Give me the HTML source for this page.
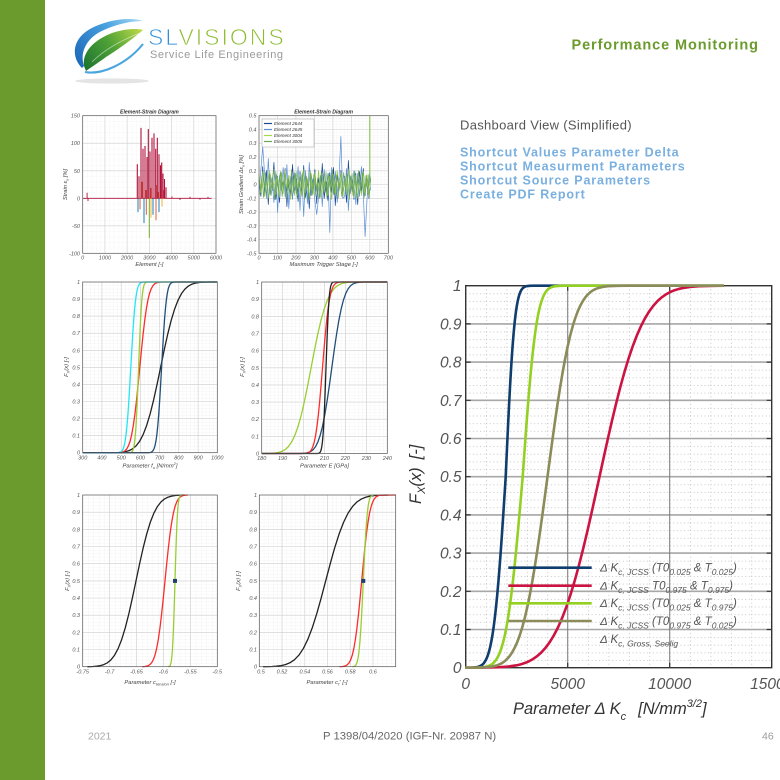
<!DOCTYPE html>
<html><head><meta charset="utf-8">
<style>
html,body{margin:0;padding:0;background:#fff;}
body{width:780px;height:780px;overflow:hidden;}
svg{display:block;font-family:"Liberation Sans",Arial,sans-serif;}
.t{font-size:5.5px;font-style:italic;fill:#555;}
.ax{font-size:5.8px;font-style:italic;fill:#444;}
.ttl{font-size:5.2px;font-style:italic;font-weight:bold;fill:#333;}
.bt{font-size:15.5px;font-style:italic;fill:#555;}
.lg{font-size:11.5px;font-style:italic;fill:#555;}
.c{fill:none;stroke-width:1.3;vector-effect:non-scaling-stroke;stroke-linejoin:round;}
.b{fill:none;stroke-width:2.6;vector-effect:non-scaling-stroke;stroke-linejoin:round;stroke-linecap:round;}
.mg{fill:none;stroke:#cfcfcf;stroke-width:0.6;}
.bd{fill:none;stroke:#555;stroke-width:0.7;}
</style></head><body>
<svg width="780" height="780" viewBox="0 0 780 780" xmlns="http://www.w3.org/2000/svg">
<defs>
<linearGradient id="gb" x1="75" y1="65" x2="143" y2="20" gradientUnits="userSpaceOnUse"><stop offset="0" stop-color="#1c66b8"/><stop offset="0.6" stop-color="#4aa3e0"/><stop offset="1" stop-color="#a9dcf3"/></linearGradient>
<linearGradient id="gg" x1="86" y1="70" x2="143" y2="28" gradientUnits="userSpaceOnUse"><stop offset="0" stop-color="#1d7530"/><stop offset="0.5" stop-color="#4fa236"/><stop offset="1" stop-color="#c3dc4a"/></linearGradient>
<pattern id="pA" x="82.7" y="115.7" width="4.444" height="5.504" patternUnits="userSpaceOnUse"><path d="M0,0.2H4.444M0.2,0V5.504" stroke="#e2e2e2" stroke-width="0.4" stroke-dasharray="0.6 0.8"/></pattern>
<pattern id="pB" x="259" y="115.7" width="3.694" height="2.752" patternUnits="userSpaceOnUse"><path d="M0,0.2H3.694M0.2,0V2.752" stroke="#e2e2e2" stroke-width="0.4" stroke-dasharray="0.6 0.8"/></pattern>
<pattern id="pC" x="82.7" y="282" width="3.846" height="3.414" patternUnits="userSpaceOnUse"><path d="M0,0.2H3.846M0.2,0V3.414" stroke="#e0e0e0" stroke-width="0.4" stroke-dasharray="0.6 0.8"/></pattern>
<pattern id="pD" x="261.7" y="282" width="4.187" height="3.43" patternUnits="userSpaceOnUse"><path d="M0,0.2H4.187M0.2,0V3.43" stroke="#e0e0e0" stroke-width="0.4" stroke-dasharray="0.6 0.8"/></pattern>
<pattern id="pE" x="82.7" y="495" width="5.384" height="3.434" patternUnits="userSpaceOnUse"><path d="M0,0.2H5.384M0.2,0V3.434" stroke="#e0e0e0" stroke-width="0.4" stroke-dasharray="0.6 0.8"/></pattern>
<pattern id="pF" x="259.3" y="495" width="4.546" height="3.434" patternUnits="userSpaceOnUse"><path d="M0,0.2H4.546M0.2,0V3.434" stroke="#e0e0e0" stroke-width="0.4" stroke-dasharray="0.6 0.8"/></pattern>
<pattern id="pBig" x="465.7" y="285.7" width="20.4" height="7.64" patternUnits="userSpaceOnUse"><path d="M0,0.4H20.4M0.4,0V7.64" stroke="#bdbdbd" stroke-width="0.8" stroke-dasharray="1 2.6"/></pattern>
<clipPath id="kC"><rect x="82.7" y="280" width="134.6" height="174.5"/></clipPath>
<clipPath id="kD"><rect x="261.7" y="280" width="125.6" height="175.5"/></clipPath>
<clipPath id="kE"><rect x="82.7" y="493" width="134.6" height="175.5"/></clipPath>
<clipPath id="kF"><rect x="259.3" y="493" width="136.4" height="175.5"/></clipPath>
<clipPath id="kBig"><rect x="465" y="280" width="258.7" height="392"/></clipPath>
</defs>

<!-- green side bar -->
<rect x="0" y="0" width="45" height="780" fill="#6b9b2c"/>

<!-- logo -->
<ellipse cx="112" cy="81" rx="37" ry="2.6" fill="#e4e4e4"/>
<path d="M82,68 C70,56 72,36 96,26 C112,19 132,17 143,21 C130,21 112,25 98,33 C85,41 80,54 84,66 Z" fill="url(#gb)"/>
<path d="M84,66 C82,52 94,40 112,33 C124,29 136,28 143,30 C134,38 120,48 106,57 C98,63 90,68 86,71 Z" fill="url(#gg)"/>
<path d="M92,62 C104,50 122,40 140,33" fill="none" stroke="#ffffff" stroke-opacity="0.55" stroke-width="0.8"/>
<path d="M85,72 C101,75 126,65 143,44" fill="none" stroke="#4aa6df" stroke-width="2.1"/>
<text x="148" y="45" font-size="23" letter-spacing="2" stroke="#fff" stroke-width="0.8"><tspan fill="#2f8fd8">SL</tspan><tspan fill="#8cba2e">VISIONS</tspan></text>
<text x="150" y="58" font-size="11" letter-spacing="0.6" fill="#9a9a9a">Service Life Engineering</text>

<!-- header right -->
<text x="571.5" y="49.3" font-size="14.5" font-weight="bold" letter-spacing="0.9" fill="#6b9b2c">Performance Monitoring</text>
<text x="460" y="129.3" font-size="13" letter-spacing="0.3" fill="#555">Dashboard View (Simplified)</text>
<g font-size="12.5" font-weight="bold" letter-spacing="0.85" fill="#7ab0e0">
<text x="460" y="156.7">Shortcut Values Parameter Delta</text>
<text x="460" y="170.7">Shortcut Measurment Parameters</text>
<text x="460" y="184.7">Shortcut Source Parameters</text>
<text x="460" y="198.5">Create PDF Report</text>
</g>

<!-- ============ Chart A: strain ============ -->
<rect x="82.7" y="115.7" width="133.3" height="137.6" fill="#fff"/>
<rect x="82.7" y="115.7" width="133.3" height="137.6" fill="url(#pA)"/>
<path class="mg" d="M104.9,115.7V253.3M127.1,115.7V253.3M149.4,115.7V253.3M171.6,115.7V253.3M193.8,115.7V253.3M82.7,143.2H216M82.7,170.8H216M82.7,198.3H216M82.7,225.8H216"/>
<path d="M82.7,198.3H211.6" stroke="#b0123b" stroke-width="0.8"/>
<path d="M87.1,198.3V192.8M88,198.3V201M172,198.3V196.5M180,198.3V200M190,198.3V196.8M200,198.3V199.8M208,198.3V196.9" stroke="#b0123b" stroke-width="0.9"/>
<path d="M142,198.3V181.8M146,198.3V190M150.8,198.3V188M156.6,198.3V185M158.2,198.3V192M163.6,198.3V190" stroke="#d95319" stroke-width="0.9"/>
<path d="M138,198.3V212.1M144,198.3V223.1M159,198.3V212.1M153,198.3V214.8" stroke="#0072bd" stroke-width="0.9"/>
<path d="M140,198.3V209.3M146.3,198.3V214.8M156,198.3V220.3" stroke="#d95319" stroke-width="0.9"/>
<path d="M151,198.3V217.6M162,198.3V206.6" stroke="#edb120" stroke-width="0.9"/>
<path d="M149.3,198.3V237.9" stroke="#77ac30" stroke-width="1"/>
<path d="M137.3,198.3V164.2M139,198.3V176.3M141,198.3V127.9M143,198.3V148.8M145,198.3V146M147,198.3V157M148.3,198.3V129M150,198.3V151.5M152,198.3V137.8M154,198.3V133.4M155.7,198.3V148.8M157.3,198.3V137.8M159,198.3V154.3M160.5,198.3V165.3M161.7,198.3V162.5M163,198.3V173.5M164.5,198.3V179M166,198.3V187.3" stroke="#b0123b" stroke-width="1.1"/>
<rect class="bd" x="82.7" y="115.7" width="133.3" height="137.6"/>
<text class="ttl" x="149.4" y="113.3" text-anchor="middle">Element-Strain Diagram</text>
<g class="t" text-anchor="end">
<text x="80" y="117.7">150</text><text x="80" y="145.2">100</text><text x="80" y="172.8">50</text><text x="80" y="200.3">0</text><text x="80" y="227.8">-50</text><text x="80" y="255.3">-100</text>
</g>
<g class="t" text-anchor="middle">
<text x="82.7" y="259.5">0</text><text x="104.9" y="259.5">1000</text><text x="127.1" y="259.5">2000</text><text x="149.4" y="259.5">3000</text><text x="171.6" y="259.5">4000</text><text x="193.8" y="259.5">5000</text><text x="216" y="259.5">6000</text>
</g>
<text class="ax" x="149.4" y="266" text-anchor="middle">Element  [-]</text>
<text class="ax" transform="translate(67,184.5) rotate(-90)" text-anchor="middle">Strain ε<tspan font-size="4" dy="1.5">x</tspan><tspan dy="-1.5"> [%]</tspan></text>

<!-- ============ Chart B: gradient ============ -->
<rect x="259" y="115.7" width="129.3" height="137.6" fill="#fff"/>
<rect x="259" y="115.7" width="129.3" height="137.6" fill="url(#pB)"/>
<path class="mg" d="M277.5,115.7V253.3M295.9,115.7V253.3M314.4,115.7V253.3M332.9,115.7V253.3M351.4,115.7V253.3M369.8,115.7V253.3M259,129.5H388.3M259,143.2H388.3M259,157H388.3M259,170.8H388.3M259,184.5H388.3M259,198.3H388.3M259,212H388.3M259,225.8H388.3M259,239.5H388.3"/>
<g transform="translate(0,184.5) scale(1,-1)" fill="none" stroke-width="0.7" stroke-linejoin="round">
<polyline stroke="#1a4a96" points="259,5 260.9,-12 262.7,18 264.6,-8 266.4,14 268.3,-20 270.2,10 272,-6 273.9,22 275.8,-15 277.6,8 279.5,-18 281.3,12 283.2,-4 285.1,16 286.9,-22 288.8,9 290.7,-11 292.5,20 294.4,-9 296.2,6 298.1,-17 300,13 301.8,-7 303.7,19 305.6,-13 307.4,4 309.3,-24 311.1,11 313,-5 314.9,15 316.7,-19 318.6,7 320.4,-10 322.3,21 324.2,-14 326,3 327.9,-16 329.8,12 331.6,-8 333.5,17 335.3,-21 337.2,10 339.1,-6 340.9,14 342.8,-12 344.7,8 346.5,-18 348.4,24 350.2,-9 352.1,5 354,-15 355.8,11 357.7,-20 359.5,13 361.4,-7 363.3,16 365.1,-11 367,9 368.9,-14 370.7,6"/>
<polyline stroke="#5b8fd6" points="259,-8 260.9,15 262.7,38 264.6,11 266.4,-14 268.3,26 270.2,-10 272,7 273.9,-18 275.8,13 277.6,-28 279.5,9 281.3,-6 283.2,17 285.1,-12 286.9,20 288.8,-24 290.7,8 292.5,-15 294.4,12 296.2,-9 298.1,18 300,-26 301.8,10 303.7,-32 305.6,14 307.4,-19 309.3,22 311.1,-11 313,6 314.9,-16 316.7,-30 318.6,-13 320.4,9 322.3,-22 324.2,15 326,-8 327.9,11 329.8,-48 331.6,17 333.5,-10 335.3,13 337.2,-18 339.1,8 340.9,48 342.8,-14 344.7,-12 346.5,16 348.4,-26 350.2,9 352.1,-7 354,14 355.8,-20 357.7,11 359.5,-12 361.4,18 363.3,-9 365.1,-52 367,-15 368.9,10 370.7,-6"/>
<polyline stroke="#8cc63f" points="259,10 260.9,-8 262.7,13 264.6,-12 266.4,6 268.3,-14 270.2,11 272,-5 273.9,15 275.8,-10 277.6,7 279.5,-13 281.3,12 283.2,-9 285.1,14 286.9,-6 288.8,9 290.7,-15 292.5,8 294.4,-11 296.2,13 298.1,-7 300,10 301.8,-12 303.7,15 305.6,-8 307.4,6 309.3,-14 311.1,11 313,-10 314.9,12 316.7,-6 318.6,14 320.4,-13 322.3,9 324.2,-7 326,13 327.9,-11 329.8,8 331.6,-15 333.5,10 335.3,-9 337.2,14 339.1,-6 340.9,12 342.8,-12 344.7,7 346.5,-10 348.4,15 350.2,-8 352.1,11 354,-13 355.8,9 357.7,-14 359.5,6 361.4,-11 363.3,13 365.1,-9 367,10 368.9,-12 370.7,8"/>
<polyline stroke="#6aa84f" points="259.9,-10 261.8,8 263.6,-13 265.5,12 267.3,-6 269.2,14 271.1,-11 272.9,5 274.8,-15 276.7,10 278.5,-7 280.4,13 282.2,-12 284.1,9 286,-14 287.8,6 289.7,-9 291.6,15 293.4,-8 295.3,11 297.1,-13 299,7 300.9,-10 302.7,12 304.6,-15 306.5,8 308.3,-6 310.2,14 312,-11 313.9,10 315.8,-12 317.6,6 319.5,-14 321.3,13 323.2,-9 325.1,7 326.9,-13 328.8,11 330.7,-8 332.5,15 334.4,-10 336.2,9 338.1,-14 340,6 341.8,-12 343.7,12 345.6,-7 347.4,10 349.3,-15 351.1,8 353,-11 354.9,13 356.7,-9 358.6,14 360.4,-6 362.3,11 364.2,-13 366,9 367.9,-10 369.8,12"/>
</g>
<path d="M369.8,186V115.7" stroke="#7dbb3a" stroke-width="1"/>
<rect x="262" y="119" width="52" height="28" fill="#fff" stroke="#888" stroke-width="0.4"/>
<path d="M264,123.5H272" stroke="#1a4a96" stroke-width="1.2"/>
<path d="M264,129.5H272" stroke="#5b8fd6" stroke-width="1.2"/>
<path d="M264,135.5H272" stroke="#a6d84a" stroke-width="1.2"/>
<path d="M264,141.5H272" stroke="#6aa84f" stroke-width="1.2"/>
<g font-size="4.6" font-style="italic" fill="#333">
<text x="274" y="125">Element 2644</text><text x="274" y="131">Element 2645</text><text x="274" y="137">Element 3004</text><text x="274" y="143">Element 3005</text>
</g>
<rect class="bd" x="259" y="115.7" width="129.3" height="137.6"/>
<text class="ttl" x="323.6" y="113.3" text-anchor="middle">Element-Strain Diagram</text>
<g class="t" text-anchor="end">
<text x="256.5" y="117.7">0.5</text><text x="256.5" y="131.5">0.4</text><text x="256.5" y="145.2">0.3</text><text x="256.5" y="159">0.2</text><text x="256.5" y="172.8">0.1</text><text x="256.5" y="186.5">0</text><text x="256.5" y="200.3">-0.1</text><text x="256.5" y="214">-0.2</text><text x="256.5" y="227.8">-0.3</text><text x="256.5" y="241.5">-0.4</text><text x="256.5" y="255.3">-0.5</text>
</g>
<g class="t" text-anchor="middle">
<text x="259" y="259.5">0</text><text x="277.5" y="259.5">100</text><text x="295.9" y="259.5">200</text><text x="314.4" y="259.5">300</text><text x="332.9" y="259.5">400</text><text x="351.4" y="259.5">500</text><text x="369.8" y="259.5">600</text><text x="388.3" y="259.5">700</text>
</g>
<text class="ax" x="323.6" y="266" text-anchor="middle">Maximum Trigger Stage  [-]</text>
<text class="ax" transform="translate(243,184.5) rotate(-90)" text-anchor="middle">Strain Gradient Δε<tspan font-size="4" dy="1.5">x</tspan><tspan dy="-1.5"> [%]</tspan></text>

<!-- ============ Chart C: f_u ============ -->
<rect x="82.7" y="282" width="134.6" height="170.7" fill="#fff"/>
<rect x="82.7" y="282" width="134.6" height="170.7" fill="url(#pC)"/>
<path class="mg" d="M101.9,282V452.7M121.2,282V452.7M140.4,282V452.7M159.6,282V452.7M178.8,282V452.7M198.1,282V452.7M82.7,299.1H217.3M82.7,316.1H217.3M82.7,333.2H217.3M82.7,350.3H217.3M82.7,367.4H217.3M82.7,384.4H217.3M82.7,401.5H217.3M82.7,418.6H217.3M82.7,435.6H217.3"/>
<g clip-path="url(#kC)">
<g transform="translate(160.6,452.7) scale(14,-170.7)"><path class="c" stroke="#222" d="M-80,0 L-3.5,0.0002 L-3,0.0013 L-2.75,0.003 L-2.5,0.0062 L-2.25,0.0122 L-2,0.0228 L-1.75,0.0401 L-1.5,0.0668 L-1.25,0.1056 L-1,0.1587 L-0.75,0.2266 L-0.5,0.3085 L-0.25,0.4013 L0,0.5 L0.25,0.5987 L0.5,0.6915 L0.75,0.7734 L1,0.8413 L1.25,0.8944 L1.5,0.9332 L1.75,0.9599 L2,0.9772 L2.25,0.9878 L2.5,0.9938 L2.75,0.997 L3,0.9987 L3.5,0.9998 L80,1"/></g>
<g transform="translate(139.8,452.7) scale(6.5,-170.7)"><path class="c" stroke="#ff2a2a" d="M-80,0 L-3.5,0.0002 L-3,0.0013 L-2.75,0.003 L-2.5,0.0062 L-2.25,0.0122 L-2,0.0228 L-1.75,0.0401 L-1.5,0.0668 L-1.25,0.1056 L-1,0.1587 L-0.75,0.2266 L-0.5,0.3085 L-0.25,0.4013 L0,0.5 L0.25,0.5987 L0.5,0.6915 L0.75,0.7734 L1,0.8413 L1.25,0.8944 L1.5,0.9332 L1.75,0.9599 L2,0.9772 L2.25,0.9878 L2.5,0.9938 L2.75,0.997 L3,0.9987 L3.5,0.9998 L80,1"/></g>
<g transform="translate(138.6,452.7) scale(2.6,-170.7)"><path class="c" stroke="#9acd32" d="M-80,0 L-3.5,0.0002 L-3,0.0013 L-2.75,0.003 L-2.5,0.0062 L-2.25,0.0122 L-2,0.0228 L-1.75,0.0401 L-1.5,0.0668 L-1.25,0.1056 L-1,0.1587 L-0.75,0.2266 L-0.5,0.3085 L-0.25,0.4013 L0,0.5 L0.25,0.5987 L0.5,0.6915 L0.75,0.7734 L1,0.8413 L1.25,0.8944 L1.5,0.9332 L1.75,0.9599 L2,0.9772 L2.25,0.9878 L2.5,0.9938 L2.75,0.997 L3,0.9987 L3.5,0.9998 L80,1"/></g>
<g transform="translate(130.8,452.7) scale(3.8,-170.7)"><path class="c" stroke="#22e5f5" d="M-80,0 L-3.5,0.0002 L-3,0.0013 L-2.75,0.003 L-2.5,0.0062 L-2.25,0.0122 L-2,0.0228 L-1.75,0.0401 L-1.5,0.0668 L-1.25,0.1056 L-1,0.1587 L-0.75,0.2266 L-0.5,0.3085 L-0.25,0.4013 L0,0.5 L0.25,0.5987 L0.5,0.6915 L0.75,0.7734 L1,0.8413 L1.25,0.8944 L1.5,0.9332 L1.75,0.9599 L2,0.9772 L2.25,0.9878 L2.5,0.9938 L2.75,0.997 L3,0.9987 L3.5,0.9998 L80,1"/></g>
<g transform="translate(161.6,452.7) scale(3.8,-170.7)"><path class="c" stroke="#1f4e79" d="M-80,0 L-3.5,0.0002 L-3,0.0013 L-2.75,0.003 L-2.5,0.0062 L-2.25,0.0122 L-2,0.0228 L-1.75,0.0401 L-1.5,0.0668 L-1.25,0.1056 L-1,0.1587 L-0.75,0.2266 L-0.5,0.3085 L-0.25,0.4013 L0,0.5 L0.25,0.5987 L0.5,0.6915 L0.75,0.7734 L1,0.8413 L1.25,0.8944 L1.5,0.9332 L1.75,0.9599 L2,0.9772 L2.25,0.9878 L2.5,0.9938 L2.75,0.997 L3,0.9987 L3.5,0.9998 L80,1"/></g>
</g>
<rect class="bd" x="82.7" y="282" width="134.6" height="170.7"/>
<g class="t" text-anchor="end">
<text x="80" y="454.7">0</text><text x="80" y="437.6">0.1</text><text x="80" y="420.6">0.2</text><text x="80" y="403.5">0.3</text><text x="80" y="386.4">0.4</text><text x="80" y="369.4">0.5</text><text x="80" y="352.3">0.6</text><text x="80" y="335.2">0.7</text><text x="80" y="318.1">0.8</text><text x="80" y="301.1">0.9</text><text x="80" y="284">1</text>
</g>
<g class="t" text-anchor="middle">
<text x="82.7" y="459.5">300</text><text x="101.9" y="459.5">400</text><text x="121.2" y="459.5">500</text><text x="140.4" y="459.5">600</text><text x="159.6" y="459.5">700</text><text x="178.8" y="459.5">800</text><text x="198.1" y="459.5">900</text><text x="217.3" y="459.5">1000</text>
</g>
<text class="ax" x="150" y="467.5" text-anchor="middle">Parameter f<tspan font-size="4" dy="1.5">u</tspan><tspan dy="-1.5">  [N/mm</tspan><tspan font-size="4" dy="-2.5">2</tspan><tspan dy="2.5">]</tspan></text>
<text class="ax" transform="translate(68,367) rotate(-90)" text-anchor="middle">F<tspan font-size="4" dy="1.5">X</tspan><tspan dy="-1.5">(x)  [-]</tspan></text>

<!-- ============ Chart D: E ============ -->
<rect x="261.7" y="282" width="125.6" height="171.5" fill="#fff"/>
<rect x="261.7" y="282" width="125.6" height="171.5" fill="url(#pD)"/>
<path class="mg" d="M282.6,282V453.5M303.6,282V453.5M324.5,282V453.5M345.4,282V453.5M366.4,282V453.5M261.7,299.2H387.3M261.7,316.3H387.3M261.7,333.5H387.3M261.7,350.6H387.3M261.7,367.8H387.3M261.7,384.9H387.3M261.7,402.1H387.3M261.7,419.2H387.3M261.7,436.4H387.3"/>
<g clip-path="url(#kD)">
<g transform="translate(311.1,453.5) scale(13,-171.5)"><path class="c" stroke="#9acd32" d="M-80,0 L-3.5,0.0002 L-3,0.0013 L-2.75,0.003 L-2.5,0.0062 L-2.25,0.0122 L-2,0.0228 L-1.75,0.0401 L-1.5,0.0668 L-1.25,0.1056 L-1,0.1587 L-0.75,0.2266 L-0.5,0.3085 L-0.25,0.4013 L0,0.5 L0.25,0.5987 L0.5,0.6915 L0.75,0.7734 L1,0.8413 L1.25,0.8944 L1.5,0.9332 L1.75,0.9599 L2,0.9772 L2.25,0.9878 L2.5,0.9938 L2.75,0.997 L3,0.9987 L3.5,0.9998 L80,1"/></g>
<g transform="translate(331.8,453.5) scale(9.3,-171.5)"><path class="c" stroke="#1f4e79" d="M-80,0 L-3.5,0.0002 L-3,0.0013 L-2.75,0.003 L-2.5,0.0062 L-2.25,0.0122 L-2,0.0228 L-1.75,0.0401 L-1.5,0.0668 L-1.25,0.1056 L-1,0.1587 L-0.75,0.2266 L-0.5,0.3085 L-0.25,0.4013 L0,0.5 L0.25,0.5987 L0.5,0.6915 L0.75,0.7734 L1,0.8413 L1.25,0.8944 L1.5,0.9332 L1.75,0.9599 L2,0.9772 L2.25,0.9878 L2.5,0.9938 L2.75,0.997 L3,0.9987 L3.5,0.9998 L80,1"/></g>
<g transform="translate(322.5,453.5) scale(5.5,-171.5)"><path class="c" stroke="#ff2a2a" d="M-80,0 L-3.5,0.0002 L-3,0.0013 L-2.75,0.003 L-2.5,0.0062 L-2.25,0.0122 L-2,0.0228 L-1.75,0.0401 L-1.5,0.0668 L-1.25,0.1056 L-1,0.1587 L-0.75,0.2266 L-0.5,0.3085 L-0.25,0.4013 L0,0.5 L0.25,0.5987 L0.5,0.6915 L0.75,0.7734 L1,0.8413 L1.25,0.8944 L1.5,0.9332 L1.75,0.9599 L2,0.9772 L2.25,0.9878 L2.5,0.9938 L2.75,0.997 L3,0.9987 L3.5,0.9998 L80,1"/></g>
<g transform="translate(326,453.5) scale(2.4,-171.5)"><path class="c" stroke="#222" d="M-80,0 L-3.5,0.0002 L-3,0.0013 L-2.75,0.003 L-2.5,0.0062 L-2.25,0.0122 L-2,0.0228 L-1.75,0.0401 L-1.5,0.0668 L-1.25,0.1056 L-1,0.1587 L-0.75,0.2266 L-0.5,0.3085 L-0.25,0.4013 L0,0.5 L0.25,0.5987 L0.5,0.6915 L0.75,0.7734 L1,0.8413 L1.25,0.8944 L1.5,0.9332 L1.75,0.9599 L2,0.9772 L2.25,0.9878 L2.5,0.9938 L2.75,0.997 L3,0.9987 L3.5,0.9998 L80,1"/></g>
</g>
<rect class="bd" x="261.7" y="282" width="125.6" height="171.5"/>
<g class="t" text-anchor="end">
<text x="259" y="455.5">0</text><text x="259" y="438.4">0.1</text><text x="259" y="421.2">0.2</text><text x="259" y="404.1">0.3</text><text x="259" y="386.9">0.4</text><text x="259" y="369.8">0.5</text><text x="259" y="352.6">0.6</text><text x="259" y="335.5">0.7</text><text x="259" y="318.3">0.8</text><text x="259" y="301.2">0.9</text><text x="259" y="284">1</text>
</g>
<g class="t" text-anchor="middle">
<text x="261.7" y="460">180</text><text x="282.6" y="460">190</text><text x="303.6" y="460">200</text><text x="324.5" y="460">210</text><text x="345.4" y="460">220</text><text x="366.4" y="460">230</text><text x="387.3" y="460">240</text>
</g>
<text class="ax" x="324.5" y="467.5" text-anchor="middle">Parameter E  [GPa]</text>
<text class="ax" transform="translate(244,367) rotate(-90)" text-anchor="middle">F<tspan font-size="4" dy="1.5">X</tspan><tspan dy="-1.5">(x)  [-]</tspan></text>

<!-- ============ Chart E: c_tension ============ -->
<rect x="82.7" y="495" width="134.6" height="171.7" fill="#fff"/>
<rect x="82.7" y="495" width="134.6" height="171.7" fill="url(#pE)"/>
<path class="mg" d="M109.6,495V666.7M136.5,495V666.7M163.5,495V666.7M190.4,495V666.7M82.7,512.2H217.3M82.7,529.3H217.3M82.7,546.5H217.3M82.7,563.7H217.3M82.7,580.9H217.3M82.7,598H217.3M82.7,615.2H217.3M82.7,632.4H217.3M82.7,649.5H217.3"/>
<g clip-path="url(#kE)">
<g transform="translate(136,666.7) scale(14.3,-171.7)"><path class="c" stroke="#222" d="M-3.4,0 L-3,0.0013 L-2.75,0.003 L-2.5,0.0062 L-2.25,0.0122 L-2,0.0228 L-1.75,0.0401 L-1.5,0.0668 L-1.25,0.1056 L-1,0.1587 L-0.75,0.2266 L-0.5,0.3085 L-0.25,0.4013 L0,0.5 L0.25,0.5987 L0.5,0.6915 L0.75,0.7734 L1,0.8413 L1.25,0.8944 L1.5,0.9332 L1.75,0.9599 L2,0.9772 L2.25,0.9878 L2.5,0.9938 L2.75,0.997 L3,0.9987 L3.4,1"/></g>
<g transform="translate(165,666.7) scale(6.7,-171.7)"><path class="c" stroke="#ff2a2a" d="M-3.4,0 L-3,0.0013 L-2.75,0.003 L-2.5,0.0062 L-2.25,0.0122 L-2,0.0228 L-1.75,0.0401 L-1.5,0.0668 L-1.25,0.1056 L-1,0.1587 L-0.75,0.2266 L-0.5,0.3085 L-0.25,0.4013 L0,0.5 L0.25,0.5987 L0.5,0.6915 L0.75,0.7734 L1,0.8413 L1.25,0.8944 L1.5,0.9332 L1.75,0.9599 L2,0.9772 L2.25,0.9878 L2.5,0.9938 L2.75,0.997 L3,0.9987 L3.4,1"/></g>
<g transform="translate(175,666.7) scale(2,-171.7)"><path class="c" stroke="#9acd32" d="M-3.4,0 L-3,0.0013 L-2.75,0.003 L-2.5,0.0062 L-2.25,0.0122 L-2,0.0228 L-1.75,0.0401 L-1.5,0.0668 L-1.25,0.1056 L-1,0.1587 L-0.75,0.2266 L-0.5,0.3085 L-0.25,0.4013 L0,0.5 L0.25,0.5987 L0.5,0.6915 L0.75,0.7734 L1,0.8413 L1.25,0.8944 L1.5,0.9332 L1.75,0.9599 L2,0.9772 L2.25,0.9878 L2.5,0.9938 L2.75,0.997 L3,0.9987 L3.4,1"/></g>
</g>
<rect x="173" y="578.9" width="4" height="4" fill="#1f3f6f"/>
<rect class="bd" x="82.7" y="495" width="134.6" height="171.7"/>
<g class="t" text-anchor="end">
<text x="80" y="668.7">0</text><text x="80" y="651.5">0.1</text><text x="80" y="634.4">0.2</text><text x="80" y="617.2">0.3</text><text x="80" y="600">0.4</text><text x="80" y="582.9">0.5</text><text x="80" y="565.7">0.6</text><text x="80" y="548.5">0.7</text><text x="80" y="531.3">0.8</text><text x="80" y="514.2">0.9</text><text x="80" y="497">1</text>
</g>
<g class="t" text-anchor="middle">
<text x="82.7" y="673.5">-0.75</text><text x="109.6" y="673.5">-0.7</text><text x="136.5" y="673.5">-0.65</text><text x="163.5" y="673.5">-0.6</text><text x="190.4" y="673.5">-0.55</text><text x="217.3" y="673.5">-0.5</text>
</g>
<text class="ax" x="150" y="684" text-anchor="middle">Parameter c<tspan font-size="4" dy="1.5">tension</tspan><tspan dy="-1.5">  [-]</tspan></text>
<text class="ax" transform="translate(69,581) rotate(-90)" text-anchor="middle">F<tspan font-size="4" dy="1.5">X</tspan><tspan dy="-1.5">(x)  [-]</tspan></text>

<!-- ============ Chart F: c_f* ============ -->
<rect x="259.3" y="495" width="136.4" height="171.7" fill="#fff"/>
<rect x="259.3" y="495" width="136.4" height="171.7" fill="url(#pF)"/>
<path class="mg" d="M282,495V666.7M304.8,495V666.7M327.5,495V666.7M350.2,495V666.7M373,495V666.7M259.3,512.2H395.7M259.3,529.3H395.7M259.3,546.5H395.7M259.3,563.7H395.7M259.3,580.9H395.7M259.3,598H395.7M259.3,615.2H395.7M259.3,632.4H395.7M259.3,649.5H395.7"/>
<g clip-path="url(#kF)">
<g transform="translate(325.7,666.7) scale(17.9,-171.7)"><path class="c" stroke="#222" d="M-3.5,0 L-3,0.0013 L-2.75,0.003 L-2.5,0.0062 L-2.25,0.0122 L-2,0.0228 L-1.75,0.0401 L-1.5,0.0668 L-1.25,0.1056 L-1,0.1587 L-0.75,0.2266 L-0.5,0.3085 L-0.25,0.4013 L0,0.5 L0.25,0.5987 L0.5,0.6915 L0.75,0.7734 L1,0.8413 L1.25,0.8944 L1.5,0.9332 L1.75,0.9599 L2,0.9772 L2.25,0.9878 L2.5,0.9938 L2.75,0.997 L3,0.9987 L3.5,1"/></g>
<g transform="translate(361.7,666.7) scale(6.3,-171.7)"><path class="c" stroke="#ff2a2a" d="M-3.5,0 L-3,0.0013 L-2.75,0.003 L-2.5,0.0062 L-2.25,0.0122 L-2,0.0228 L-1.75,0.0401 L-1.5,0.0668 L-1.25,0.1056 L-1,0.1587 L-0.75,0.2266 L-0.5,0.3085 L-0.25,0.4013 L0,0.5 L0.25,0.5987 L0.5,0.6915 L0.75,0.7734 L1,0.8413 L1.25,0.8944 L1.5,0.9332 L1.75,0.9599 L2,0.9772 L2.25,0.9878 L2.5,0.9938 L2.75,0.997 L3,0.9987 L5.5,1"/></g>
<g transform="translate(363.3,666.7) scale(3.2,-171.7)"><path class="c" stroke="#9acd32" d="M-3.4,0 L-3,0.0013 L-2.75,0.003 L-2.5,0.0062 L-2.25,0.0122 L-2,0.0228 L-1.75,0.0401 L-1.5,0.0668 L-1.25,0.1056 L-1,0.1587 L-0.75,0.2266 L-0.5,0.3085 L-0.25,0.4013 L0,0.5 L0.25,0.5987 L0.5,0.6915 L0.75,0.7734 L1,0.8413 L1.25,0.8944 L1.5,0.9332 L1.75,0.9599 L2,0.9772 L2.25,0.9878 L2.5,0.9938 L2.75,0.997 L3,0.9987 L3.4,1"/></g>
</g>
<rect x="361.3" y="578.9" width="4" height="4" fill="#1f3f6f"/>
<rect class="bd" x="259.3" y="495" width="136.4" height="171.7"/>
<g class="t" text-anchor="end">
<text x="257" y="668.7">0</text><text x="257" y="651.5">0.1</text><text x="257" y="634.4">0.2</text><text x="257" y="617.2">0.3</text><text x="257" y="600">0.4</text><text x="257" y="582.9">0.5</text><text x="257" y="565.7">0.6</text><text x="257" y="548.5">0.7</text><text x="257" y="531.3">0.8</text><text x="257" y="514.2">0.9</text><text x="257" y="497">1</text>
</g>
<g class="t" text-anchor="middle">
<text x="261" y="673.5">0.5</text><text x="282" y="673.5">0.52</text><text x="304.8" y="673.5">0.54</text><text x="327.5" y="673.5">0.56</text><text x="350.2" y="673.5">0.58</text><text x="373" y="673.5">0.6</text>
</g>
<text class="ax" x="327" y="684" text-anchor="middle">Parameter c<tspan font-size="4" dy="1.5">f</tspan><tspan font-size="4" dy="-3">*</tspan><tspan dy="1.5">  [-]</tspan></text>
<text class="ax" transform="translate(240,581) rotate(-90)" text-anchor="middle">F<tspan font-size="4" dy="1.5">X</tspan><tspan dy="-1.5">(x)  [-]</tspan></text>

<!-- ============ Big chart ============ -->
<rect x="465.7" y="285.7" width="306" height="382" fill="#fff"/>
<rect x="465.7" y="285.7" width="306" height="382" fill="url(#pBig)"/>
<path d="M465.7,629.5H771.7M465.7,591.3H771.7M465.7,553.1H771.7M465.7,514.9H771.7M465.7,476.7H771.7M465.7,438.5H771.7M465.7,400.3H771.7M465.7,362.1H771.7M465.7,323.9H771.7" stroke="#a8a8a8" stroke-width="1.6" fill="none"/>
<path d="M567.7,285.7V667.7M669.7,285.7V667.7" stroke="#7a7a7a" stroke-width="1" fill="none"/>
<path d="M465.7,629.5h5M465.7,591.3h5M465.7,553.1h5M465.7,514.9h5M465.7,476.7h5M465.7,438.5h5M465.7,400.3h5M465.7,362.1h5M465.7,323.9h5M771.7,629.5h-5M771.7,591.3h-5M771.7,553.1h-5M771.7,514.9h-5M771.7,476.7h-5M771.7,438.5h-5M771.7,400.3h-5M771.7,362.1h-5M771.7,323.9h-5M567.7,667.7v-5M669.7,667.7v-5M567.7,285.7v5M669.7,285.7v5" stroke="#333" stroke-width="1.2" fill="none"/>
<rect x="465.7" y="285.7" width="306" height="382" fill="none" stroke="#333" stroke-width="1.4"/>
<g clip-path="url(#kBig)">
<!-- blue -->
<g transform="translate(505.7,667.7) scale(9.68,-382)"><path class="b" stroke="#0f3d6e" d="M-80,0 L-4,0 L-3.5,0.0002 L-3,0.0013 L-2.75,0.003 L-2.5,0.0062 L-2.375,0.0088 L-2.25,0.0122 L-2.125,0.0168 L-2,0.0228 L-1.875,0.0304 L-1.75,0.0401 L-1.625,0.0521 L-1.5,0.0668 L-1.375,0.0846 L-1.25,0.1056 L-1.125,0.1303 L-1,0.1587 L-0.875,0.1908 L-0.75,0.2266 L-0.625,0.266 L-0.5,0.3085 L-0.375,0.3538 L-0.25,0.4013 L-0.125,0.4503 L0,0.5"/></g>
<g transform="translate(505.7,667.7) scale(6.87,-382)"><path class="b" stroke="#0f3d6e" d="M0,0.5 L0.125,0.5497 L0.25,0.5987 L0.375,0.6462 L0.5,0.6915 L0.625,0.734 L0.75,0.7734 L0.875,0.8092 L1,0.8413 L1.125,0.8697 L1.25,0.8944 L1.375,0.9154 L1.5,0.9332 L1.625,0.9479 L1.75,0.9599 L1.875,0.9696 L2,0.9772 L2.125,0.9832 L2.25,0.9878 L2.375,0.9912 L2.5,0.9938 L2.75,0.997 L3,0.9987 L3.5,0.9998 L4,1 L80,1"/></g>
<!-- red -->
<g transform="translate(599.5,667.7) scale(33.2,-382)"><path class="b" stroke="#cc1443" d="M-80,0 L-4,0 L-3.5,0.0002 L-3,0.0013 L-2.75,0.003 L-2.5,0.0062 L-2.375,0.0088 L-2.25,0.0122 L-2.125,0.0168 L-2,0.0228 L-1.875,0.0304 L-1.75,0.0401 L-1.625,0.0521 L-1.5,0.0668 L-1.375,0.0846 L-1.25,0.1056 L-1.125,0.1303 L-1,0.1587 L-0.875,0.1908 L-0.75,0.2266 L-0.625,0.266 L-0.5,0.3085 L-0.375,0.3538 L-0.25,0.4013 L-0.125,0.4503 L0,0.5 L0.125,0.5497 L0.25,0.5987 L0.375,0.6462 L0.5,0.6915 L0.625,0.734 L0.75,0.7734 L0.875,0.8092 L1,0.8413 L1.125,0.8697 L1.25,0.8944 L1.375,0.9154 L1.5,0.9332 L1.625,0.9479 L1.75,0.9599 L1.875,0.9696 L2,0.9772 L2.125,0.9832 L2.25,0.9878 L2.375,0.9912 L2.5,0.9938 L2.75,0.997 L3,0.9987 L3.5,0.9998 L4,1 L80,1"/></g>
<!-- green -->
<g transform="translate(522.7,667.7) scale(13.03,-382)"><path class="b" stroke="#93d022" d="M-80,0 L-4,0 L-3.5,0.0002 L-3,0.0013 L-2.75,0.003 L-2.5,0.0062 L-2.375,0.0088 L-2.25,0.0122 L-2.125,0.0168 L-2,0.0228 L-1.875,0.0304 L-1.75,0.0401 L-1.625,0.0521 L-1.5,0.0668 L-1.375,0.0846 L-1.25,0.1056 L-1.125,0.1303 L-1,0.1587 L-0.875,0.1908 L-0.75,0.2266 L-0.625,0.266 L-0.5,0.3085 L-0.375,0.3538 L-0.25,0.4013 L-0.125,0.4503 L0,0.5"/></g>
<g transform="translate(522.7,667.7) scale(10.77,-382)"><path class="b" stroke="#93d022" d="M0,0.5 L0.125,0.5497 L0.25,0.5987 L0.375,0.6462 L0.5,0.6915 L0.625,0.734 L0.75,0.7734 L0.875,0.8092 L1,0.8413 L1.125,0.8697 L1.25,0.8944 L1.375,0.9154 L1.5,0.9332 L1.625,0.9479 L1.75,0.9599 L1.875,0.9696 L2,0.9772 L2.125,0.9832 L2.25,0.9878 L2.375,0.9912 L2.5,0.9938 L2.75,0.997 L3,0.9987 L3.5,0.9998 L4,1 L80,1"/></g>
<!-- olive -->
<g transform="translate(547.5,667.7) scale(20.2,-382)"><path class="b" stroke="#8c8b5a" d="M-80,0 L-4,0 L-3.5,0.0002 L-3,0.0013 L-2.75,0.003 L-2.5,0.0062 L-2.375,0.0088 L-2.25,0.0122 L-2.125,0.0168 L-2,0.0228 L-1.875,0.0304 L-1.75,0.0401 L-1.625,0.0521 L-1.5,0.0668 L-1.375,0.0846 L-1.25,0.1056 L-1.125,0.1303 L-1,0.1587 L-0.875,0.1908 L-0.75,0.2266 L-0.625,0.266 L-0.5,0.3085 L-0.375,0.3538 L-0.25,0.4013 L-0.125,0.4503 L0,0.5 L0.125,0.5497 L0.25,0.5987 L0.375,0.6462 L0.5,0.6915 L0.625,0.734 L0.75,0.7734 L0.875,0.8092 L1,0.8413 L1.125,0.8697 L1.25,0.8944 L1.375,0.9154 L1.5,0.9332 L1.625,0.9479 L1.75,0.9599 L1.875,0.9696 L2,0.9772 L2.125,0.9832 L2.25,0.9878 L2.375,0.9912 L2.5,0.9938 L2.75,0.997 L3,0.9987 L3.5,0.9998 L4,1 L80,1"/></g>
</g>
<g stroke-width="2.6" fill="none">
<path d="M508.3,567.7H591.7" stroke="#0f3d6e"/>
<path d="M508.3,585.7H591.7" stroke="#cc1443"/>
<path d="M508.3,603.3H591.7" stroke="#93d022"/>
<path d="M508.3,621H591.7" stroke="#8c8b5a"/>
</g>
<text class="lg" x="600" y="571.5">Δ K<tspan font-size="8.5" dy="3.5">c, JCSS</tspan><tspan dy="-3.5"> (T0</tspan><tspan font-size="8.5" dy="3.5">0.025</tspan><tspan dy="-3.5"> &amp; T</tspan><tspan font-size="8.5" dy="3.5">0.025</tspan><tspan dy="-3.5">)</tspan></text>
<text class="lg" x="600" y="589.5">Δ K<tspan font-size="8.5" dy="3.5">c, JCSS</tspan><tspan dy="-3.5"> T0</tspan><tspan font-size="8.5" dy="3.5">0.975</tspan><tspan dy="-3.5"> &amp; T</tspan><tspan font-size="8.5" dy="3.5">0.975</tspan><tspan dy="-3.5">)</tspan></text>
<text class="lg" x="600" y="607.2">Δ K<tspan font-size="8.5" dy="3.5">c, JCSS</tspan><tspan dy="-3.5"> (T0</tspan><tspan font-size="8.5" dy="3.5">0.025</tspan><tspan dy="-3.5"> &amp; T</tspan><tspan font-size="8.5" dy="3.5">0.975</tspan><tspan dy="-3.5">)</tspan></text>
<text class="lg" x="600" y="625">Δ K<tspan font-size="8.5" dy="3.5">c, JCSS</tspan><tspan dy="-3.5"> (T0</tspan><tspan font-size="8.5" dy="3.5">0.975</tspan><tspan dy="-3.5"> &amp; T</tspan><tspan font-size="8.5" dy="3.5">0.025</tspan><tspan dy="-3.5">)</tspan></text>
<text class="lg" x="600" y="643">Δ K<tspan font-size="8.5" dy="3.5">c, Gross, Seelig</tspan></text>
<g class="bt" text-anchor="end">
<text x="461.5" y="291.2">1</text><text x="461.5" y="329.4">0.9</text><text x="461.5" y="367.6">0.8</text><text x="461.5" y="405.8">0.7</text><text x="461.5" y="444">0.6</text><text x="461.5" y="482.2">0.5</text><text x="461.5" y="520.4">0.4</text><text x="461.5" y="558.6">0.3</text><text x="461.5" y="596.8">0.2</text><text x="461.5" y="635">0.1</text><text x="461.5" y="673.2">0</text>
</g>
<g class="bt" text-anchor="middle">
<text x="465.7" y="688.8">0</text><text x="567.7" y="688.8">5000</text><text x="669.7" y="688.8">10000</text><text x="771.7" y="688.8">15000</text>
</g>
<text x="513" y="714" font-size="16.5" font-style="italic" fill="#333">Parameter Δ K<tspan font-size="11" dy="6">c</tspan><tspan dx="12" dy="-6">[N/mm</tspan><tspan font-size="11" dy="-7">3/2</tspan><tspan dy="7">]</tspan></text>
<text transform="translate(421,504) rotate(-90)" font-size="16.5" font-style="italic" fill="#333">F<tspan font-size="11" dy="4">X</tspan><tspan dy="-4">(x)</tspan><tspan dx="8">[-]</tspan></text>

<!-- footer -->
<text x="88" y="739.5" font-size="10.5" fill="#aaa">2021</text>
<text x="323" y="739.5" font-size="11.3" fill="#666">P 1398/04/2020 (IGF-Nr. 20987 N)</text>
<text x="762" y="739.5" font-size="10.5" fill="#999">46</text>
</svg>
</body></html>
